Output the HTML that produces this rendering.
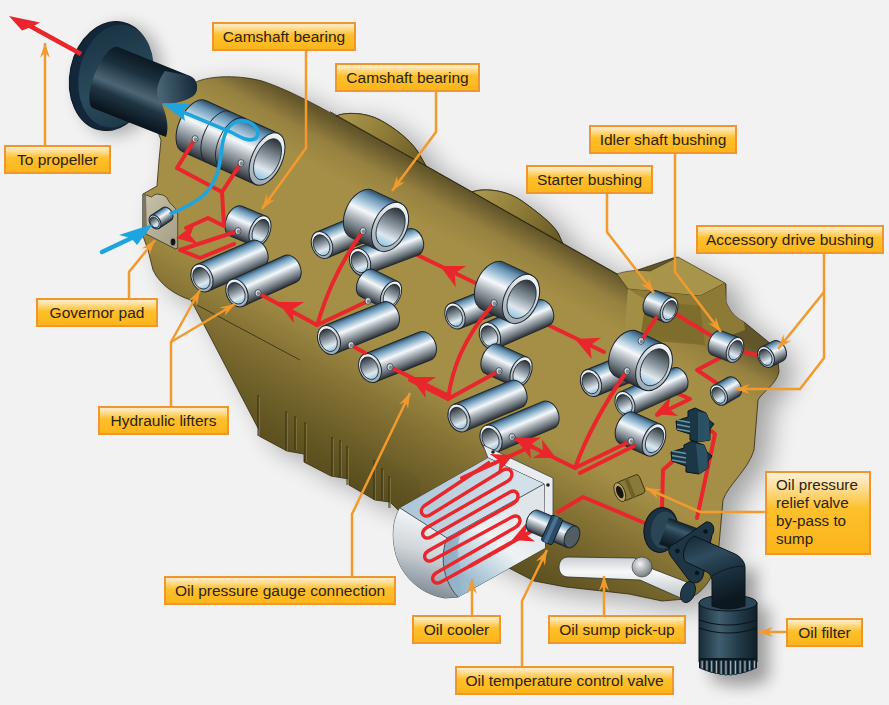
<!DOCTYPE html><html><head><meta charset="utf-8"><style>html,body{margin:0;padding:0;background:#f2f2f3;}svg{display:block;font-family:"Liberation Sans",sans-serif;}text{fill:#2b2319;}</style></head><body>
<svg width="889" height="705" viewBox="0 0 889 705">
<defs>

<linearGradient id="lab" x1="0" y1="0" x2="0" y2="1">
 <stop offset="0" stop-color="#fdf2da"/><stop offset="0.15" stop-color="#fde3a6"/><stop offset="0.45" stop-color="#fdc02c"/><stop offset="1" stop-color="#fcb41a"/>
</linearGradient>
<linearGradient id="mA" x1="0" y1="0" x2="0" y2="1">
 <stop offset="0" stop-color="#2c4a60"/><stop offset="0.12" stop-color="#6592b2"/><stop offset="0.3" stop-color="#b6d0e1"/><stop offset="0.43" stop-color="#f5f8fa"/><stop offset="0.58" stop-color="#b9c1c7"/><stop offset="0.82" stop-color="#687078"/><stop offset="1" stop-color="#2a2e33"/>
</linearGradient>
<linearGradient id="mB" x1="0" y1="1" x2="0" y2="0">
 <stop offset="0" stop-color="#2c4a60"/><stop offset="0.12" stop-color="#6592b2"/><stop offset="0.3" stop-color="#b6d0e1"/><stop offset="0.43" stop-color="#f5f8fa"/><stop offset="0.58" stop-color="#b9c1c7"/><stop offset="0.82" stop-color="#687078"/><stop offset="1" stop-color="#2a2e33"/>
</linearGradient>
<linearGradient id="eA" x1="0" y1="0" x2="0" y2="1">
 <stop offset="0" stop-color="#f4f6f8"/><stop offset="1" stop-color="#9aa8b3"/>
</linearGradient>
<linearGradient id="eB" x1="0" y1="1" x2="0" y2="0">
 <stop offset="0" stop-color="#f4f6f8"/><stop offset="1" stop-color="#9aa8b3"/>
</linearGradient>
<linearGradient id="hA" x1="0" y1="0" x2="0" y2="1">
 <stop offset="0" stop-color="#2a3136"/><stop offset="0.45" stop-color="#8e9aa3"/><stop offset="0.75" stop-color="#dfe8ee"/><stop offset="1" stop-color="#8fc3e0"/>
</linearGradient>
<linearGradient id="hB" x1="0" y1="1" x2="0" y2="0">
 <stop offset="0" stop-color="#2a3136"/><stop offset="0.45" stop-color="#8e9aa3"/><stop offset="0.75" stop-color="#dfe8ee"/><stop offset="1" stop-color="#8fc3e0"/>
</linearGradient>
<linearGradient id="body" gradientUnits="userSpaceOnUse" x1="560" y1="241.6" x2="407" y2="522">
 <stop offset="0" stop-color="#62552a"/><stop offset="0.08" stop-color="#968140"/><stop offset="0.16" stop-color="#a58f46"/><stop offset="0.56" stop-color="#a58f46"/><stop offset="0.75" stop-color="#806e32"/><stop offset="0.94" stop-color="#605422"/><stop offset="1" stop-color="#5a4e20"/>
</linearGradient>
<linearGradient id="nose" gradientUnits="userSpaceOnUse" x1="240" y1="80" x2="200" y2="250">
 <stop offset="0" stop-color="#6e6126"/><stop offset="0.5" stop-color="#8d7d35"/><stop offset="1" stop-color="#7a6b2c"/>
</linearGradient>
<linearGradient id="sump" gradientUnits="userSpaceOnUse" x1="300" y1="380" x2="280" y2="470">
 <stop offset="0" stop-color="#7a6a2e" stop-opacity="0"/><stop offset="1" stop-color="#55491c" stop-opacity="0.3"/>
</linearGradient>
<linearGradient id="hump1" gradientUnits="userSpaceOnUse" x1="350" y1="112" x2="420" y2="160">
 <stop offset="0" stop-color="#a8944a"/><stop offset="0.5" stop-color="#8c7a36"/><stop offset="1" stop-color="#6a5c26"/>
</linearGradient>
<linearGradient id="hump2" gradientUnits="userSpaceOnUse" x1="485" y1="190" x2="555" y2="238">
 <stop offset="0" stop-color="#a8944a"/><stop offset="0.5" stop-color="#8c7a36"/><stop offset="1" stop-color="#6a5c26"/>
</linearGradient>
<linearGradient id="hump" gradientUnits="userSpaceOnUse" x1="0" y1="0" x2="1" y2="1" gradientTransform="scale(1)">
 <stop offset="0" stop-color="#a08e42"/><stop offset="1" stop-color="#6a5d25"/>
</linearGradient>
<linearGradient id="navy" x1="0" y1="0" x2="0" y2="1">
 <stop offset="0" stop-color="#0f1d27"/><stop offset="0.3" stop-color="#3d5566"/><stop offset="0.55" stop-color="#1f3442"/><stop offset="1" stop-color="#0b161e"/>
</linearGradient>
<linearGradient id="navyH" x1="0" y1="0" x2="1" y2="0">
 <stop offset="0" stop-color="#182c39"/><stop offset="0.35" stop-color="#3f5e6e"/><stop offset="0.7" stop-color="#213947"/><stop offset="1" stop-color="#111f28"/>
</linearGradient>
<linearGradient id="cool" x1="0" y1="0" x2="0" y2="1">
 <stop offset="0" stop-color="#f4f6f7"/><stop offset="1" stop-color="#aab3ba"/>
</linearGradient>
<linearGradient id="coolS" x1="0" y1="0" x2="1" y2="0">
 <stop offset="0" stop-color="#c9cfd4"/><stop offset="0.5" stop-color="#eef1f3"/><stop offset="1" stop-color="#b4bcc3"/>
</linearGradient>
<linearGradient id="flange" gradientUnits="userSpaceOnUse" x1="80" y1="40" x2="130" y2="130">
 <stop offset="0" stop-color="#1a3444"/><stop offset="0.6" stop-color="#2a4b5c"/><stop offset="1" stop-color="#1c3848"/>
</linearGradient>
<linearGradient id="shaft" gradientUnits="userSpaceOnUse" x1="160" y1="55" x2="140" y2="135">
 <stop offset="0" stop-color="#0e1b24"/><stop offset="0.3" stop-color="#22394a"/><stop offset="0.5" stop-color="#50697a"/><stop offset="0.65" stop-color="#1d3241"/><stop offset="1" stop-color="#0a141b"/>
</linearGradient>
<linearGradient id="coolTop" gradientUnits="userSpaceOnUse" x1="420" y1="480" x2="500" y2="510">
 <stop offset="0" stop-color="#adc6d8"/><stop offset="1" stop-color="#d2e0e9"/>
</linearGradient>
<linearGradient id="coolSide" gradientUnits="userSpaceOnUse" x1="452" y1="585" x2="515" y2="505">
 <stop offset="0" stop-color="#86aac2"/><stop offset="0.3" stop-color="#b9cfdd"/><stop offset="0.6" stop-color="#eef2f5"/><stop offset="1" stop-color="#dfe5e9"/>
</linearGradient>
<linearGradient id="coolEnd" gradientUnits="userSpaceOnUse" x1="420" y1="515" x2="400" y2="590">
 <stop offset="0" stop-color="#f2f4f5"/><stop offset="0.45" stop-color="#cfd5da"/><stop offset="1" stop-color="#7d8892"/>
</linearGradient>
<linearGradient id="tube" x1="0" y1="0" x2="0" y2="1">
 <stop offset="0" stop-color="#c9ced2"/><stop offset="0.35" stop-color="#f7f8f8"/><stop offset="1" stop-color="#b9c0c5"/>
</linearGradient>
<radialGradient id="ball" cx="0.4" cy="0.35" r="0.7">
 <stop offset="0" stop-color="#f4f4f4"/><stop offset="1" stop-color="#6b7378"/>
</radialGradient>
<linearGradient id="shaftL" x1="0" y1="0" x2="0" y2="1">
 <stop offset="0" stop-color="#0c1922"/><stop offset="0.25" stop-color="#1a2f3d"/><stop offset="0.55" stop-color="#4d6676"/><stop offset="0.7" stop-color="#1f3543"/><stop offset="1" stop-color="#08121a"/>
</linearGradient>
<linearGradient id="pad" x1="0" y1="0" x2="1" y2="1">
 <stop offset="0" stop-color="#c9c3ac"/><stop offset="1" stop-color="#a39c84"/>
</linearGradient>
<linearGradient id="pipe" x1="0" y1="0" x2="0.3" y2="1">
 <stop offset="0" stop-color="#142633"/><stop offset="0.35" stop-color="#2f4c5e"/><stop offset="0.6" stop-color="#1d3442"/><stop offset="1" stop-color="#0c1820"/>
</linearGradient>
<linearGradient id="coolCurve" x1="0" y1="0" x2="1" y2="0">
 <stop offset="0" stop-color="#7fa4bd"/><stop offset="1" stop-color="#a9c3d4"/>
</linearGradient>
<linearGradient id="pipeC" x1="0" y1="0" x2="0" y2="1">
 <stop offset="0" stop-color="#10202b"/><stop offset="0.3" stop-color="#3b5a6c"/><stop offset="0.55" stop-color="#1f3746"/><stop offset="1" stop-color="#0a151c"/>
</linearGradient>
<linearGradient id="shaftU" gradientUnits="userSpaceOnUse" x1="150" y1="60" x2="125" y2="121">
 <stop offset="0" stop-color="#0c1922"/><stop offset="0.25" stop-color="#1a2f3d"/><stop offset="0.55" stop-color="#4d6676"/><stop offset="0.7" stop-color="#1f3543"/><stop offset="1" stop-color="#08121a"/>
</linearGradient>
<linearGradient id="capG" gradientUnits="userSpaceOnUse" x1="158" y1="90" x2="196" y2="85">
 <stop offset="0" stop-color="#4a6676"/><stop offset="1" stop-color="#15293a"/>
</linearGradient>
<filter id="shadow2" x="-50%" y="-50%" width="200%" height="200%">
 <feGaussianBlur stdDeviation="8"/>
</filter>
<filter id="shadow" x="-20%" y="-20%" width="140%" height="140%">
 <feGaussianBlur stdDeviation="13"/>
</filter>

</defs>
<rect width="889" height="705" fill="#f2f2f3"/>
<path d="M192,84 C205,76 235,74 262,81 C280,87 300,96 336,116 C345,112 365,112 380,120 C395,128 410,140 418,152 L426,166 L472,192 C482,188 505,189 522,201 C536,211 552,223 558,233 L563,244 L620,276 L676,257 L726,284 L726,302 C730,312 736,318 744,322 L777,349 L779,372 C776,385 762,392 758,400 L754,450 C748,470 728,485 723,500 L719,545 L716,565 C712,580 700,596 686,599 L662,601 L629,594 L566,587 L534,581 L505,566 L400,512 L390,502 L375,500 L349,485 L349,479 L331,476 L304,462 L304,454 L287,451 L259,436 L259,430 L191,300 C175,295 160,285 153,270 L148,250 L143,236 L143,194 L157,186 L159,160 L161,140 L150,112 L172,80 Z" fill="#000" opacity="0.32" filter="url(#shadow)" transform="translate(14,8)"/>
<path d="M192,84 C205,76 235,74 262,81 C280,87 300,96 336,116 C345,112 365,112 380,120 C395,128 410,140 418,152 L426,166 L472,192 C482,188 505,189 522,201 C536,211 552,223 558,233 L563,244 L620,276 L676,257 L726,284 L726,302 C730,312 736,318 744,322 L777,349 L779,372 C776,385 762,392 758,400 L754,450 C748,470 728,485 723,500 L719,545 L716,565 C712,580 700,596 686,599 L662,601 L629,594 L566,587 L534,581 L505,566 L400,512 L390,502 L375,500 L349,485 L349,479 L331,476 L304,462 L304,454 L287,451 L259,436 L259,430 L191,300 C175,295 160,285 153,270 L148,250 L143,236 L143,194 L157,186 L159,160 L161,140 L150,112 L172,80 Z" fill="url(#body)" stroke="#2e2810" stroke-width="0.8"/>
<path d="M191,300 L259,430 L259,436 L287,451 L304,454 L304,462 L331,476 L349,479 L349,485 L375,500 L390,502 L400,512 L420,520 L420,480 L300,400 Z" fill="url(#sump)"/>
<path d="M197,305 L300,360" stroke="#2e2810" stroke-width="0.8"/>
<line x1="259.2" y1="397" x2="259.2" y2="436" stroke="#8c7b3a" stroke-width="1"/>
<line x1="258" y1="395" x2="258" y2="436" stroke="#2e2810" stroke-width="0.9"/>
<line x1="287.2" y1="413" x2="287.2" y2="451" stroke="#8c7b3a" stroke-width="1"/>
<line x1="286" y1="411" x2="286" y2="451" stroke="#2e2810" stroke-width="0.9"/>
<line x1="296.2" y1="418" x2="296.2" y2="450" stroke="#8c7b3a" stroke-width="1"/>
<line x1="295" y1="416" x2="295" y2="450" stroke="#2e2810" stroke-width="0.9"/>
<line x1="306.2" y1="424" x2="306.2" y2="462" stroke="#8c7b3a" stroke-width="1"/>
<line x1="305" y1="422" x2="305" y2="462" stroke="#2e2810" stroke-width="0.9"/>
<line x1="333.2" y1="439" x2="333.2" y2="476" stroke="#8c7b3a" stroke-width="1"/>
<line x1="332" y1="437" x2="332" y2="476" stroke="#2e2810" stroke-width="0.9"/>
<line x1="341.2" y1="442" x2="341.2" y2="477" stroke="#8c7b3a" stroke-width="1"/>
<line x1="340" y1="440" x2="340" y2="477" stroke="#2e2810" stroke-width="0.9"/>
<line x1="348.2" y1="448" x2="348.2" y2="485" stroke="#8c7b3a" stroke-width="1"/>
<line x1="347" y1="446" x2="347" y2="485" stroke="#2e2810" stroke-width="0.9"/>
<line x1="375.2" y1="462" x2="375.2" y2="500" stroke="#8c7b3a" stroke-width="1"/>
<line x1="374" y1="460" x2="374" y2="500" stroke="#2e2810" stroke-width="0.9"/>
<line x1="383.2" y1="470" x2="383.2" y2="500" stroke="#8c7b3a" stroke-width="1"/>
<line x1="382" y1="468" x2="382" y2="500" stroke="#2e2810" stroke-width="0.9"/>
<line x1="390.2" y1="478" x2="390.2" y2="508" stroke="#8c7b3a" stroke-width="1"/>
<line x1="389" y1="476" x2="389" y2="508" stroke="#2e2810" stroke-width="0.9"/>
<path d="M336,116 C345,112 365,112 380,120 C395,128 410,140 418,152 L426,166 Z" fill="url(#hump1)" stroke="#2e2810" stroke-width="0.8"/>
<path d="M472,192 C482,188 505,189 522,201 C536,211 552,223 558,233 L563,244 Z" fill="url(#hump2)" stroke="#2e2810" stroke-width="0.8"/>
<path d="M330,111.7 L620,275.6" stroke="#2e2810" stroke-width="0.9" fill="none"/>
<path d="M617,274 C628,270 640,270 650,271 L678,257 L725,283 L700,296 L628,289 Z" fill="#a8954a" stroke="#2e2810" stroke-width="0.6"/>
<path d="M628,289 L700,296 L725,283 L726,302 C730,312 736,318 744,322 L745,330 L705,345 L624,332 Z" fill="#8c7a36"/>
<path d="M628,289 L624,332 L640,340 L646,300 Z" fill="#a8954a" opacity="0.8"/>
<path d="M646,300 L700,306 L705,345 L640,340 Z" fill="#7b6a2c" opacity="0.8"/>
<ellipse cx="120" cy="80" rx="42" ry="56" transform="rotate(12 120 80)" fill="#000" opacity="0.28" filter="url(#shadow2)"/>
<ellipse cx="111" cy="76" rx="41" ry="55" transform="rotate(12 111 76)" fill="#13273a" stroke="#0a141b" stroke-width="1"/>
<ellipse cx="116" cy="76" rx="37" ry="52" transform="rotate(12 116 76)" fill="url(#flange)"/>
<path d="M118,47 L190,76 C197,79 199,88 195,94 C190,100 175,104 162,104 C165,112 170,126 166,137 L93.2,108.2 A11.5,33 21.9 0 1 118,47 Z" fill="url(#shaftU)"/>
<path d="M165,71 L190,76 C197,79 199,88 195,94 C190,100 175,104 162,104 C155,99 155,84 165,71 Z" fill="url(#capG)"/>
<path d="M81,54 L30,26" stroke="#e8262b" stroke-width="4.6"/>
<path d="M9,16 L40,22.5 L32.6,26.4 L22,30.5 Z" fill="#e8262b"/>
<path d="M409,251 L490,290" fill="none" stroke="#e8262b" stroke-width="4.0" stroke-linejoin="round" stroke-linecap="round"/>
<path d="M440,266 L466.2,266.0 L454.7,273.3 L455.7,286.9 Z" fill="#e8262b"/>
<path d="M542,322 L604,352" fill="none" stroke="#e8262b" stroke-width="4.0" stroke-linejoin="round" stroke-linecap="round"/>
<path d="M575,339 L601.1,337.7 L590.0,345.6 L591.7,359.1 Z" fill="#e8262b"/>
<path d="M669,310 L735,350 L766,357" fill="none" stroke="#e8262b" stroke-width="4.0" stroke-linejoin="round" stroke-linecap="round"/>
<path d="M670,390 L690,399 L657,415" fill="none" stroke="#e8262b" stroke-width="4.0" stroke-linejoin="round" stroke-linecap="round"/>
<path d="M655,414 L670.4,396.6 L668.5,408.6 L678.2,415.9 Z" fill="#e8262b"/>
<path d="M735,350 L697,370 L721,386" fill="none" stroke="#e8262b" stroke-width="4.0" stroke-linejoin="round" stroke-linecap="round"/>
<g transform="translate(194.0,126.0) rotate(24.33)"><path d="M0,-28 L80.1,-28 L80.1,28 L0,28 A15.1,28 0 0 1 0,-28 Z" fill="url(#mA)" stroke="#1b2630" stroke-width="1.0"/><path d="M27.2,-28 A15.1,28 0 0 0 27.2,28" fill="none" stroke="#1b2630" stroke-width="0.9"/><path d="M43.3,-28 A15.1,28 0 0 0 43.3,28" fill="none" stroke="#1b2630" stroke-width="0.9"/><ellipse cx="80.1" cy="0" rx="15.1" ry="28" fill="url(#eA)" stroke="#1b2630" stroke-width="1.0"/><ellipse cx="80.7" cy="0" rx="11.8" ry="21.8" fill="url(#hA)" stroke="#1b2630" stroke-width="0.8"/></g>
<g transform="translate(236.0,221.0) rotate(22.62)"><path d="M0,-16 L26.0,-16 L26.0,16 L0,16 A9.9,16 0 0 1 0,-16 Z" fill="url(#mA)" stroke="#1b2630" stroke-width="1.0"/><ellipse cx="26.0" cy="0" rx="9.9" ry="16" fill="url(#eA)" stroke="#1b2630" stroke-width="1.0"/><ellipse cx="26.6" cy="0" rx="7.7" ry="12.5" fill="url(#hA)" stroke="#1b2630" stroke-width="0.8"/></g>
<g transform="translate(257.0,254.0) rotate(156.43)"><path d="M0,-14.5 L60.0,-14.5 L60.0,14.5 L0,14.5 A10.4,14.5 0 0 1 0,-14.5 Z" fill="url(#mB)" stroke="#1b2630" stroke-width="1.0"/><ellipse cx="60.0" cy="0" rx="10.4" ry="14.5" fill="url(#eB)" stroke="#1b2630" stroke-width="1.0"/><ellipse cx="60.6" cy="0" rx="8.1" ry="11.3" fill="url(#hB)" stroke="#1b2630" stroke-width="0.8"/></g>
<g transform="translate(290.0,269.0) rotate(155.64)"><path d="M0,-14.5 L58.2,-14.5 L58.2,14.5 L0,14.5 A10.4,14.5 0 0 1 0,-14.5 Z" fill="url(#mB)" stroke="#1b2630" stroke-width="1.0"/><ellipse cx="58.2" cy="0" rx="10.4" ry="14.5" fill="url(#eB)" stroke="#1b2630" stroke-width="1.0"/><ellipse cx="58.8" cy="0" rx="8.1" ry="11.3" fill="url(#hB)" stroke="#1b2630" stroke-width="0.8"/></g>
<g transform="translate(372.0,224.0) rotate(157.22)"><path d="M0,-14 L54.2,-14 L54.2,14 L0,14 A10.1,14 0 0 1 0,-14 Z" fill="url(#mB)" stroke="#1b2630" stroke-width="1.0"/><ellipse cx="54.2" cy="0" rx="10.1" ry="14" fill="url(#eB)" stroke="#1b2630" stroke-width="1.0"/><ellipse cx="54.8" cy="0" rx="7.9" ry="10.9" fill="url(#hB)" stroke="#1b2630" stroke-width="0.8"/></g>
<g transform="translate(413.0,242.0) rotate(159.33)"><path d="M0,-14 L56.6,-14 L56.6,14 L0,14 A10.1,14 0 0 1 0,-14 Z" fill="url(#mB)" stroke="#1b2630" stroke-width="1.0"/><ellipse cx="56.6" cy="0" rx="10.1" ry="14" fill="url(#eB)" stroke="#1b2630" stroke-width="1.0"/><ellipse cx="57.2" cy="0" rx="7.9" ry="10.9" fill="url(#hB)" stroke="#1b2630" stroke-width="0.8"/></g>
<g transform="translate(362.0,214.0) rotate(24.90)"><path d="M0,-26 L30.9,-26 L30.9,26 L0,26 A16.6,26 0 0 1 0,-26 Z" fill="url(#mA)" stroke="#1b2630" stroke-width="1.0"/><ellipse cx="30.9" cy="0" rx="16.6" ry="26" fill="url(#eA)" stroke="#1b2630" stroke-width="1.0"/><ellipse cx="31.5" cy="0" rx="13.0" ry="20.3" fill="url(#hA)" stroke="#1b2630" stroke-width="0.8"/></g>
<g transform="translate(367.0,283.0) rotate(26.57)"><path d="M0,-15 L26.8,-15 L26.8,15 L0,15 A9.3,15 0 0 1 0,-15 Z" fill="url(#mA)" stroke="#1b2630" stroke-width="1.0"/><ellipse cx="26.8" cy="0" rx="9.3" ry="15" fill="url(#eA)" stroke="#1b2630" stroke-width="1.0"/><ellipse cx="27.4" cy="0" rx="7.3" ry="11.7" fill="url(#hA)" stroke="#1b2630" stroke-width="0.8"/></g>
<g transform="translate(388.0,316.0) rotate(157.86)"><path d="M0,-15 L63.7,-15 L63.7,15 L0,15 A10.8,15 0 0 1 0,-15 Z" fill="url(#mB)" stroke="#1b2630" stroke-width="1.0"/><ellipse cx="63.7" cy="0" rx="10.8" ry="15" fill="url(#eB)" stroke="#1b2630" stroke-width="1.0"/><ellipse cx="64.3" cy="0" rx="8.4" ry="11.7" fill="url(#hB)" stroke="#1b2630" stroke-width="0.8"/></g>
<g transform="translate(425.0,346.0) rotate(158.20)"><path d="M0,-15 L59.2,-15 L59.2,15 L0,15 A10.8,15 0 0 1 0,-15 Z" fill="url(#mB)" stroke="#1b2630" stroke-width="1.0"/><ellipse cx="59.2" cy="0" rx="10.8" ry="15" fill="url(#eB)" stroke="#1b2630" stroke-width="1.0"/><ellipse cx="59.8" cy="0" rx="8.4" ry="11.7" fill="url(#hB)" stroke="#1b2630" stroke-width="0.8"/></g>
<g transform="translate(503.0,297.0) rotate(158.40)"><path d="M0,-13.5 L51.6,-13.5 L51.6,13.5 L0,13.5 A9.7,13.5 0 0 1 0,-13.5 Z" fill="url(#mB)" stroke="#1b2630" stroke-width="1.0"/><ellipse cx="51.6" cy="0" rx="9.7" ry="13.5" fill="url(#eB)" stroke="#1b2630" stroke-width="1.0"/><ellipse cx="52.2" cy="0" rx="7.6" ry="10.5" fill="url(#hB)" stroke="#1b2630" stroke-width="0.8"/></g>
<g transform="translate(543.0,313.0) rotate(156.54)"><path d="M0,-14 L57.8,-14 L57.8,14 L0,14 A10.1,14 0 0 1 0,-14 Z" fill="url(#mB)" stroke="#1b2630" stroke-width="1.0"/><ellipse cx="57.8" cy="0" rx="10.1" ry="14" fill="url(#eB)" stroke="#1b2630" stroke-width="1.0"/><ellipse cx="58.4" cy="0" rx="7.9" ry="10.9" fill="url(#hB)" stroke="#1b2630" stroke-width="0.8"/></g>
<g transform="translate(493.0,286.0) rotate(24.90)"><path d="M0,-26 L30.9,-26 L30.9,26 L0,26 A16.6,26 0 0 1 0,-26 Z" fill="url(#mA)" stroke="#1b2630" stroke-width="1.0"/><ellipse cx="30.9" cy="0" rx="16.6" ry="26" fill="url(#eA)" stroke="#1b2630" stroke-width="1.0"/><ellipse cx="31.5" cy="0" rx="13.0" ry="20.3" fill="url(#hA)" stroke="#1b2630" stroke-width="0.8"/></g>
<g transform="translate(492.0,359.0) rotate(24.15)"><path d="M0,-16 L31.8,-16 L31.8,16 L0,16 A9.9,16 0 0 1 0,-16 Z" fill="url(#mA)" stroke="#1b2630" stroke-width="1.0"/><ellipse cx="31.8" cy="0" rx="9.9" ry="16" fill="url(#eA)" stroke="#1b2630" stroke-width="1.0"/><ellipse cx="32.4" cy="0" rx="7.7" ry="12.5" fill="url(#hA)" stroke="#1b2630" stroke-width="0.8"/></g>
<g transform="translate(516.0,394.0) rotate(157.17)"><path d="M0,-14.5 L61.8,-14.5 L61.8,14.5 L0,14.5 A10.4,14.5 0 0 1 0,-14.5 Z" fill="url(#mB)" stroke="#1b2630" stroke-width="1.0"/><ellipse cx="61.8" cy="0" rx="10.4" ry="14.5" fill="url(#eB)" stroke="#1b2630" stroke-width="1.0"/><ellipse cx="62.4" cy="0" rx="8.1" ry="11.3" fill="url(#hB)" stroke="#1b2630" stroke-width="0.8"/></g>
<g transform="translate(548.0,415.0) rotate(157.17)"><path d="M0,-14.5 L61.8,-14.5 L61.8,14.5 L0,14.5 A10.4,14.5 0 0 1 0,-14.5 Z" fill="url(#mB)" stroke="#1b2630" stroke-width="1.0"/><ellipse cx="61.8" cy="0" rx="10.4" ry="14.5" fill="url(#eB)" stroke="#1b2630" stroke-width="1.0"/><ellipse cx="62.4" cy="0" rx="8.1" ry="11.3" fill="url(#hB)" stroke="#1b2630" stroke-width="0.8"/></g>
<g transform="translate(638.0,364.0) rotate(157.99)"><path d="M0,-14 L50.7,-14 L50.7,14 L0,14 A10.1,14 0 0 1 0,-14 Z" fill="url(#mB)" stroke="#1b2630" stroke-width="1.0"/><ellipse cx="50.7" cy="0" rx="10.1" ry="14" fill="url(#eB)" stroke="#1b2630" stroke-width="1.0"/><ellipse cx="51.3" cy="0" rx="7.9" ry="10.9" fill="url(#hB)" stroke="#1b2630" stroke-width="0.8"/></g>
<g transform="translate(678.0,380.0) rotate(155.64)"><path d="M0,-13 L58.2,-13 L58.2,13 L0,13 A9.4,13 0 0 1 0,-13 Z" fill="url(#mB)" stroke="#1b2630" stroke-width="1.0"/><ellipse cx="58.2" cy="0" rx="9.4" ry="13" fill="url(#eB)" stroke="#1b2630" stroke-width="1.0"/><ellipse cx="58.8" cy="0" rx="7.3" ry="10.1" fill="url(#hB)" stroke="#1b2630" stroke-width="0.8"/></g>
<g transform="translate(627.0,354.0) rotate(25.71)"><path d="M0,-25 L30.0,-25 L30.0,25 L0,25 A16.5,25 0 0 1 0,-25 Z" fill="url(#mA)" stroke="#1b2630" stroke-width="1.0"/><ellipse cx="30.0" cy="0" rx="16.5" ry="25" fill="url(#eA)" stroke="#1b2630" stroke-width="1.0"/><ellipse cx="30.6" cy="0" rx="12.9" ry="19.5" fill="url(#hA)" stroke="#1b2630" stroke-width="0.8"/></g>
<g transform="translate(627.0,428.0) rotate(23.96)"><path d="M0,-17 L29.5,-17 L29.5,17 L0,17 A10.5,17 0 0 1 0,-17 Z" fill="url(#mA)" stroke="#1b2630" stroke-width="1.0"/><ellipse cx="29.5" cy="0" rx="10.5" ry="17" fill="url(#eA)" stroke="#1b2630" stroke-width="1.0"/><ellipse cx="30.1" cy="0" rx="8.2" ry="13.3" fill="url(#hA)" stroke="#1b2630" stroke-width="0.8"/></g>
<g transform="translate(652.0,303.0) rotate(22.38)"><path d="M0,-13 L18.4,-13 L18.4,13 L0,13 A8.1,13 0 0 1 0,-13 Z" fill="url(#mA)" stroke="#1b2630" stroke-width="1.0"/><ellipse cx="18.4" cy="0" rx="8.1" ry="13" fill="url(#eA)" stroke="#1b2630" stroke-width="1.0"/><ellipse cx="19.0" cy="0" rx="6.3" ry="10.1" fill="url(#hA)" stroke="#1b2630" stroke-width="0.8"/></g>
<g transform="translate(717.0,343.0) rotate(21.25)"><path d="M0,-13 L19.3,-13 L19.3,13 L0,13 A8.1,13 0 0 1 0,-13 Z" fill="url(#mA)" stroke="#1b2630" stroke-width="1.0"/><ellipse cx="19.3" cy="0" rx="8.1" ry="13" fill="url(#eA)" stroke="#1b2630" stroke-width="1.0"/><ellipse cx="19.9" cy="0" rx="6.3" ry="10.1" fill="url(#hA)" stroke="#1b2630" stroke-width="0.8"/></g>
<g transform="translate(778.0,351.0) rotate(153.43)"><path d="M0,-11 L13.4,-11 L13.4,11 L0,11 A7.7,11 0 0 1 0,-11 Z" fill="url(#mB)" stroke="#1b2630" stroke-width="1.0"/><ellipse cx="13.4" cy="0" rx="7.7" ry="11" fill="url(#eB)" stroke="#1b2630" stroke-width="1.0"/><ellipse cx="14.0" cy="0" rx="6.0" ry="8.6" fill="url(#hB)" stroke="#1b2630" stroke-width="0.8"/></g>
<g transform="translate(733.0,387.0) rotate(150.26)"><path d="M0,-11 L16.1,-11 L16.1,11 L0,11 A7.7,11 0 0 1 0,-11 Z" fill="url(#mB)" stroke="#1b2630" stroke-width="1.0"/><ellipse cx="16.1" cy="0" rx="7.7" ry="11" fill="url(#eB)" stroke="#1b2630" stroke-width="1.0"/><ellipse cx="16.7" cy="0" rx="6.0" ry="8.6" fill="url(#hB)" stroke="#1b2630" stroke-width="0.8"/></g>
<path d="M143,194 L151.6,197 L154,195 L157,194 L163,195 L166.3,197 L169.7,202.7 L175.4,208.4 L177.7,214 L177.7,248 L175.4,249 L144.8,233.3 L143,230 Z" fill="url(#pad)" stroke="#3a3420" stroke-width="0.8"/>
<path d="M143,194 L146,195 L147,233 L144.8,233.3 L143,230 Z" fill="#7d7560"/>
<g transform="translate(167.0,214.0) rotate(146.31)"><path d="M0,-7.5 L14.4,-7.5 L14.4,7.5 L0,7.5 A5.2,7.5 0 0 1 0,-7.5 Z" fill="url(#mB)" stroke="#1b2630" stroke-width="1.0"/><ellipse cx="14.4" cy="0" rx="5.2" ry="7.5" fill="url(#eB)" stroke="#1b2630" stroke-width="1.0"/><ellipse cx="15.0" cy="0" rx="4.1" ry="5.9" fill="url(#hB)" stroke="#1b2630" stroke-width="0.8"/></g>
<ellipse cx="173" cy="242" rx="2.4" ry="3.4" fill="#151515"/>
<path d="M656,318 L641,341" fill="none" stroke="#e8262b" stroke-width="4.0" stroke-linejoin="round" stroke-linecap="round"/>
<path d="M195,139 L177,168 L222,192 L241,163" fill="none" stroke="#e8262b" stroke-width="4.0" stroke-linejoin="round" stroke-linecap="round"/>
<path d="M222,192 L224,226 L208,218 L186,228" fill="none" stroke="#e8262b" stroke-width="4.0" stroke-linejoin="round" stroke-linecap="round"/>
<path d="M176,238 L194.6,224.0 L190.3,235.4 L198.3,244.5 Z" fill="#e8262b"/>
<path d="M238,231 L180,250 L200,258 L234,244" fill="none" stroke="#e8262b" stroke-width="4.0" stroke-linejoin="round" stroke-linecap="round"/>
<path d="M317,325 C325,300 335,270 363,231" fill="none" stroke="#e8262b" stroke-width="4.0" stroke-linejoin="round" stroke-linecap="round"/>
<path d="M317,325 L368,301" fill="none" stroke="#e8262b" stroke-width="4.0" stroke-linejoin="round" stroke-linecap="round"/>
<path d="M317,325 L258,293" fill="none" stroke="#e8262b" stroke-width="4.0" stroke-linejoin="round" stroke-linecap="round"/>
<path d="M278,302 L304.2,302.0 L292.7,309.3 L293.7,322.9 Z" fill="#e8262b"/>
<path d="M351,345 L365,353" fill="none" stroke="#e8262b" stroke-width="4.0" stroke-linejoin="round" stroke-linecap="round"/>
<path d="M390,367 L449,396" fill="none" stroke="#e8262b" stroke-width="4.0" stroke-linejoin="round" stroke-linecap="round"/>
<path d="M410,377 L436.2,377.0 L424.7,384.3 L425.7,397.9 Z" fill="#e8262b"/>
<path d="M448,399 C452,370 462,340 494,303" fill="none" stroke="#e8262b" stroke-width="4.0" stroke-linejoin="round" stroke-linecap="round"/>
<path d="M448,399 L499,371" fill="none" stroke="#e8262b" stroke-width="4.0" stroke-linejoin="round" stroke-linecap="round"/>
<path d="M448,399 L410,380" fill="none" stroke="#e8262b" stroke-width="4.0" stroke-linejoin="round" stroke-linecap="round"/>
<path d="M512,437 L575,468" fill="none" stroke="#e8262b" stroke-width="4.0" stroke-linejoin="round" stroke-linecap="round"/>
<path d="M515,438 L541.2,437.6 L529.8,445.1 L531.0,458.7 Z" fill="#e8262b"/>
<path d="M575,468 C585,440 600,410 627,371" fill="none" stroke="#e8262b" stroke-width="4.0" stroke-linejoin="round" stroke-linecap="round"/>
<path d="M575,468 L631,441" fill="none" stroke="#e8262b" stroke-width="4.0" stroke-linejoin="round" stroke-linecap="round"/>
<path d="M580,473 L634,446" fill="none" stroke="#e8262b" stroke-width="4.0" stroke-linejoin="round" stroke-linecap="round"/>
<path d="M556,458 L532.7,458.0 L543.0,451.5 L542.0,439.4 Z" fill="#e8262b"/>
<path d="M558,512 L583,497 L647,524" fill="none" stroke="#e8262b" stroke-width="4.0" stroke-linejoin="round" stroke-linecap="round"/>
<path d="M662,507 L663,470 L674,460" fill="none" stroke="#e8262b" stroke-width="4.0" stroke-linejoin="round" stroke-linecap="round"/>
<path d="M697,518 L715,434 L710,430" fill="none" stroke="#e8262b" stroke-width="4.0" stroke-linejoin="round" stroke-linecap="round"/>
<ellipse cx="195" cy="139" rx="3" ry="3.4" fill="#d5dde2" stroke="#1b2630" stroke-width="0.7"/><ellipse cx="195.5" cy="139.5" rx="1.7" ry="2" fill="#7d878e"/>
<ellipse cx="241" cy="163" rx="3" ry="3.4" fill="#d5dde2" stroke="#1b2630" stroke-width="0.7"/><ellipse cx="241.5" cy="163.5" rx="1.7" ry="2" fill="#7d878e"/>
<ellipse cx="238" cy="231" rx="3" ry="3.4" fill="#d5dde2" stroke="#1b2630" stroke-width="0.7"/><ellipse cx="238.5" cy="231.5" rx="1.7" ry="2" fill="#7d878e"/>
<ellipse cx="363" cy="231" rx="3" ry="3.4" fill="#d5dde2" stroke="#1b2630" stroke-width="0.7"/><ellipse cx="363.5" cy="231.5" rx="1.7" ry="2" fill="#7d878e"/>
<ellipse cx="368" cy="301" rx="3" ry="3.4" fill="#d5dde2" stroke="#1b2630" stroke-width="0.7"/><ellipse cx="368.5" cy="301.5" rx="1.7" ry="2" fill="#7d878e"/>
<ellipse cx="351" cy="345" rx="3" ry="3.4" fill="#d5dde2" stroke="#1b2630" stroke-width="0.7"/><ellipse cx="351.5" cy="345.5" rx="1.7" ry="2" fill="#7d878e"/>
<ellipse cx="390" cy="367" rx="3" ry="3.4" fill="#d5dde2" stroke="#1b2630" stroke-width="0.7"/><ellipse cx="390.5" cy="367.5" rx="1.7" ry="2" fill="#7d878e"/>
<ellipse cx="258" cy="293" rx="3" ry="3.4" fill="#d5dde2" stroke="#1b2630" stroke-width="0.7"/><ellipse cx="258.5" cy="293.5" rx="1.7" ry="2" fill="#7d878e"/>
<ellipse cx="494" cy="303" rx="3" ry="3.4" fill="#d5dde2" stroke="#1b2630" stroke-width="0.7"/><ellipse cx="494.5" cy="303.5" rx="1.7" ry="2" fill="#7d878e"/>
<ellipse cx="499" cy="371" rx="3" ry="3.4" fill="#d5dde2" stroke="#1b2630" stroke-width="0.7"/><ellipse cx="499.5" cy="371.5" rx="1.7" ry="2" fill="#7d878e"/>
<ellipse cx="512" cy="437" rx="3" ry="3.4" fill="#d5dde2" stroke="#1b2630" stroke-width="0.7"/><ellipse cx="512.5" cy="437.5" rx="1.7" ry="2" fill="#7d878e"/>
<ellipse cx="627" cy="371" rx="3" ry="3.4" fill="#d5dde2" stroke="#1b2630" stroke-width="0.7"/><ellipse cx="627.5" cy="371.5" rx="1.7" ry="2" fill="#7d878e"/>
<ellipse cx="631" cy="441" rx="3" ry="3.4" fill="#d5dde2" stroke="#1b2630" stroke-width="0.7"/><ellipse cx="631.5" cy="441.5" rx="1.7" ry="2" fill="#7d878e"/>
<ellipse cx="641" cy="341" rx="3" ry="3.4" fill="#d5dde2" stroke="#1b2630" stroke-width="0.7"/><ellipse cx="641.5" cy="341.5" rx="1.7" ry="2" fill="#7d878e"/>
<path d="M178,110 L231,132 C240,137 250,143 256,138 C262,130 252,120 240,121 C230,122 224,132 222,147 C220,165 218,180 205,194 C195,203 185,208 170,214" fill="none" stroke="#1ea4de" stroke-width="3.6"/>
<path d="M102,252 L140,234" stroke="#1ea4de" stroke-width="4.5" stroke-linecap="round"/>
<path d="M153,224 L119,235 L131,238 L137,245 Z" fill="#1ea4de"/>
<path d="M162,103 L190,104 L183,111 L185,121 Z" fill="#1ea4de"/>
<g transform="rotate(-22 630 488)"><rect x="619" y="478" width="24" height="20" rx="3" fill="#8a7a3a" stroke="#2e2810" stroke-width="0.8"/><rect x="628" y="478" width="4" height="20" fill="#6e6128"/><ellipse cx="619" cy="488" rx="5" ry="10" fill="#b8a560" stroke="#2e2810" stroke-width="0.8"/><ellipse cx="619" cy="488" rx="3.2" ry="6.5" fill="#151515"/></g>
<path d="M684,445 L692,441 L704,445 L707,452 L712,456 L708,461 L708,468 L699,474 L686,472 L686,466 L672,461 L671,452 L684,448 Z" fill="#1b3644" stroke="#08131a" stroke-width="1"/>
<path d="M688,411 L695,408 L706,413 L709,420 L714,424 L710,429 L710,440 L697,442 L690,440 L690,434 L677,430 L676,421 L688,417 Z" fill="#1b3644" stroke="#08131a" stroke-width="1"/>
<path d="M698,412 L706,413 L709,420 L710,440 L698,442 Z M696,444 L704,445 L707,452 L708,468 L699,474 Z" fill="#2a5264"/>
<path d="M677,420 L690,422.5" stroke="#6a96a6" stroke-width="1.5"/>
<path d="M677,424.5 L690,427.0" stroke="#6a96a6" stroke-width="1.5"/>
<path d="M677,429 L690,431.5" stroke="#6a96a6" stroke-width="1.5"/>
<path d="M672,451 L686,453.5" stroke="#6a96a6" stroke-width="1.5"/>
<path d="M672,455.5 L686,458.0" stroke="#6a96a6" stroke-width="1.5"/>
<path d="M672,460 L686,462.5" stroke="#6a96a6" stroke-width="1.5"/>
<path d="M483,445 L553,478 L553,515 L544,520 L544,484 L488,458 Z" fill="#e9ecee" stroke="#3a4148" stroke-width="0.8"/>
<circle cx="548" cy="485" r="1.8" fill="#222"/><circle cx="493" cy="452" r="1.8" fill="#222"/>
<path d="M400,508 L488,458 L544,484 L545,548 L458,597 L445,598 C420,594 398,575 394,545 C392,530 394,518 400,508 Z" fill="#dfe4e8" stroke="#2a3138" stroke-width="0.8"/>
<path d="M400,508 L488,458 L544,484 L447,538 Z" fill="url(#coolTop)"/>
<path d="M447,538 L544,484 L545,548 L458,597 Z" fill="url(#coolSide)"/>
<path d="M400,508 L447,538 C440,555 442,580 458,597 L445,598 C420,594 398,575 394,545 C392,530 394,518 400,508 Z" fill="url(#coolEnd)"/>
<path d="M447,538 C440,555 442,580 458,597 L472,589 C460,575 455,555 460,535 Z" fill="url(#coolCurve)" opacity="0.9"/>
<path d="M400,508 L447,538 L544,484 M447,538 C440,555 442,580 458,597" fill="none" stroke="#2a3138" stroke-width="0.8"/>
<path d="M490,462 L424,506 C418,511 423,519 430,515 L503,470 C512,466 515,476 508,481 L426,528 C419,533 424,541 431,537 L510,492 C518,488 521,498 514,503 L428,551 C421,556 426,564 433,560 L512,517 C520,513 523,522 516,527 L436,573 C429,578 434,586 441,582 L470,566" fill="none" stroke="#e8262b" stroke-width="3.4" stroke-linejoin="round"/>
<path d="M470,566 L530,532 L545,524" fill="none" stroke="#e8262b" stroke-width="4.0" stroke-linejoin="round" stroke-linecap="round"/>
<path d="M512,540 L527.0,522.2 L525.4,534.3 L535.2,541.4 Z" fill="#e8262b"/>
<path d="M462,478 L532,446" fill="none" stroke="#e8262b" stroke-width="4.0" stroke-linejoin="round" stroke-linecap="round"/>
<path d="M513,455 L498.4,473.1 L499.7,461.0 L489.8,454.1 Z" fill="#e8262b"/>
<g transform="translate(534.0,521.0) rotate(22.83)"><path d="M0,-11.5 L41.2,-11.5 L41.2,11.5 L0,11.5 A7.1,11.5 0 0 1 0,-11.5 Z" fill="url(#mA)" stroke="#1b2630" stroke-width="1.0"/><ellipse cx="41.2" cy="0" rx="7.1" ry="11.5" fill="#525c63" stroke="#1b2630" stroke-width="1.0"/></g>
<g transform="rotate(24 552 530)"><rect x="546" y="516" width="12" height="28" rx="2" fill="#2a4a66" stroke="#0a141b" stroke-width="0.8"/><rect x="549" y="516" width="4" height="28" fill="#4d7090"/></g>
<path d="M568,557 L635,558 L645,566 L692,584 L685,600 L640,580 L568,577 C556,577 556,557 568,557 Z" fill="url(#tube)" stroke="#2a3138" stroke-width="0.8"/>
<ellipse cx="688" cy="592" rx="7" ry="11" transform="rotate(20 688 592)" fill="#1f3a4a" stroke="#111" stroke-width="0.8"/>
<circle cx="642" cy="567" r="10" fill="url(#ball)" stroke="#333" stroke-width="0.6"/>
<path d="M699,600 L699,672 Q728,684 757,672 L757,600 Z M711,565 L745,560 L745,600 L711,600 Z" fill="#000" opacity="0.35" filter="url(#shadow2)" transform="translate(12,8)"/>
<path d="M699,603 L699,662 L757,662 L757,603 Z" fill="url(#navyH)" stroke="#0a141b" stroke-width="1"/>
<path d="M699,658 L699,668 Q728,682 757,668 L757,658 Z" fill="#0c1820"/><rect x="700.5" y="660" width="3.2" height="9.3" rx="1" fill="#2c4452"/><rect x="701.6" y="661" width="1.1" height="7.3" fill="#a7b2b8"/><rect x="705.2" y="660" width="3.2" height="11.1" rx="1" fill="#2c4452"/><rect x="706.4" y="661" width="1.1" height="9.1" fill="#a7b2b8"/><rect x="710.0" y="660" width="3.2" height="12.7" rx="1" fill="#2c4452"/><rect x="711.1" y="661" width="1.1" height="10.7" fill="#a7b2b8"/><rect x="714.8" y="660" width="3.2" height="14.1" rx="1" fill="#2c4452"/><rect x="715.9" y="661" width="1.1" height="12.1" fill="#a7b2b8"/><rect x="719.5" y="660" width="3.2" height="15.0" rx="1" fill="#2c4452"/><rect x="720.6" y="661" width="1.1" height="13.0" fill="#a7b2b8"/><rect x="724.2" y="660" width="3.2" height="15.4" rx="1" fill="#2c4452"/><rect x="725.4" y="661" width="1.1" height="13.4" fill="#a7b2b8"/><rect x="729.0" y="660" width="3.2" height="15.4" rx="1" fill="#2c4452"/><rect x="730.1" y="661" width="1.1" height="13.4" fill="#a7b2b8"/><rect x="733.8" y="660" width="3.2" height="14.9" rx="1" fill="#2c4452"/><rect x="734.9" y="661" width="1.1" height="12.9" fill="#a7b2b8"/><rect x="738.5" y="660" width="3.2" height="13.9" rx="1" fill="#2c4452"/><rect x="739.6" y="661" width="1.1" height="11.9" fill="#a7b2b8"/><rect x="743.2" y="660" width="3.2" height="12.6" rx="1" fill="#2c4452"/><rect x="744.4" y="661" width="1.1" height="10.6" fill="#a7b2b8"/><rect x="748.0" y="660" width="3.2" height="10.9" rx="1" fill="#2c4452"/><rect x="749.1" y="661" width="1.1" height="8.9" fill="#a7b2b8"/><rect x="752.8" y="660" width="3.2" height="9.1" rx="1" fill="#2c4452"/><rect x="753.9" y="661" width="1.1" height="7.1" fill="#a7b2b8"/>
<path d="M699,620 Q728,630 757,620 M699,628 Q728,638 757,628" stroke="#0a141b" stroke-width="1.2" fill="none"/>
<ellipse cx="728" cy="603" rx="29" ry="8" fill="#2b4656" stroke="#0a141b" stroke-width="1"/>
<ellipse cx="661" cy="530" rx="17" ry="22.5" transform="rotate(8 661 530)" fill="#1a3141" stroke="#0a141b" stroke-width="1"/>
<ellipse cx="664" cy="530" rx="13" ry="18.5" transform="rotate(8 664 530)" fill="#2a4555"/>
<g transform="translate(664,531) rotate(20)"><path d="M0,-14 L32,-14 L32,14 L0,14 Z" fill="url(#pipeC)"/></g>
<path d="M706,522 C713,521 716,529 712,535 L703,576 C701,584 692,585 688,579 L670,555 C667,549 670,545 676,543 Z" fill="#1d3545" stroke="#0a141b" stroke-width="1"/>
<circle cx="705.5" cy="531.5" r="2.2" fill="#0a141b"/><circle cx="677.4" cy="551" r="2.2" fill="#0a141b"/><circle cx="697" cy="573" r="2.2" fill="#0a141b"/>
<path d="M694,536 L735,554 C741,557 745,562 745,568 L745,606 Q728,612 712,606 L712,580 C711,575 709,573 705,571 L686,562 C680,556 686,540 694,536 Z" fill="url(#pipe)" stroke="#0a141b" stroke-width="1"/>
<path d="M712,576 Q728,566 745,566" stroke="#0a141b" stroke-width="0.8" fill="none"/>
<path d="M45,145 L45,43" fill="none" stroke="#f39a2e" stroke-width="2.5"/><path d="M45,43 L50.0,58.0 L45.0,52.8 L40.0,58.0 Z" fill="#f39a2e"/>
<rect x="5" y="146" width="105" height="27" fill="url(#lab)" stroke="#f0962e" stroke-width="2"/><text x="57.5" y="165.1" text-anchor="middle" font-size="15.5">To propeller</text>
<path d="M306,50 L306,148 L262,209" fill="none" stroke="#f39a2e" stroke-width="2.5"/><path d="M262,209 L266.7,193.9 L267.7,201.1 L274.8,199.8 Z" fill="#f39a2e"/>
<rect x="213" y="23" width="142" height="27" fill="url(#lab)" stroke="#f0962e" stroke-width="2"/><text x="284.0" y="42.1" text-anchor="middle" font-size="15.5">Camshaft bearing</text>
<path d="M436,91 L436,132 L392,191" fill="none" stroke="#f39a2e" stroke-width="2.5"/><path d="M392,191 L397.0,176.0 L397.8,183.2 L405.0,182.0 Z" fill="#f39a2e"/>
<rect x="336" y="64" width="143" height="27" fill="url(#lab)" stroke="#f0962e" stroke-width="2"/><text x="407.5" y="83.1" text-anchor="middle" font-size="15.5">Camshaft bearing</text>
<path d="M675,154 L675,272 L721,332" fill="none" stroke="#f39a2e" stroke-width="2.5"/><path d="M721,332 L707.9,323.1 L715.1,324.3 L715.8,317.1 Z" fill="#f39a2e"/>
<rect x="590" y="126" width="146" height="27" fill="url(#lab)" stroke="#f0962e" stroke-width="2"/><text x="663.0" y="145.1" text-anchor="middle" font-size="15.5">Idler shaft bushing</text>
<path d="M607,193 L607,232 L654,293" fill="none" stroke="#f39a2e" stroke-width="2.5"/><path d="M654,293 L640.9,284.2 L648.0,285.3 L648.8,278.1 Z" fill="#f39a2e"/>
<rect x="527" y="166" width="125" height="27" fill="url(#lab)" stroke="#f0962e" stroke-width="2"/><text x="589.5" y="185.1" text-anchor="middle" font-size="15.5">Starter bushing</text>
<path d="M824,253 L824,358 L800,389 L735,389" fill="none" stroke="#f39a2e" stroke-width="2.5"/><path d="M735,389 L750.0,384.0 L744.8,389.0 L750.0,394.0 Z" fill="#f39a2e"/>
<path d="M824,292 L778,349" fill="none" stroke="#f39a2e" stroke-width="2.5"/><path d="M778,349 L783.5,334.2 L784.1,341.4 L791.3,340.5 Z" fill="#f39a2e"/>
<rect x="697" y="226" width="186" height="27" fill="url(#lab)" stroke="#f0962e" stroke-width="2"/><text x="790.0" y="245.1" text-anchor="middle" font-size="15.5">Accessory drive bushing</text>
<path d="M129,298 L129,272 L155,240" fill="none" stroke="#f39a2e" stroke-width="2.5"/><path d="M155,240 L149.4,254.8 L148.9,247.6 L141.7,248.5 Z" fill="#f39a2e"/>
<rect x="37" y="299" width="120" height="27" fill="url(#lab)" stroke="#f0962e" stroke-width="2"/><text x="97.0" y="318.1" text-anchor="middle" font-size="15.5">Governor pad</text>
<path d="M171,406 L171,342 L200,290" fill="none" stroke="#f39a2e" stroke-width="2.5"/><path d="M200,290 L197.1,305.5 L195.3,298.5 L188.3,300.7 Z" fill="#f39a2e"/>
<path d="M171,342 L235,304" fill="none" stroke="#f39a2e" stroke-width="2.5"/><path d="M235,304 L224.7,316.0 L226.6,309.0 L219.5,307.4 Z" fill="#f39a2e"/>
<rect x="99" y="407" width="129" height="27" fill="url(#lab)" stroke="#f0962e" stroke-width="2"/><text x="163.5" y="426.1" text-anchor="middle" font-size="15.5">Hydraulic lifters</text>
<path d="M352,576 L352,514 L410,393" fill="none" stroke="#f39a2e" stroke-width="2.5"/><path d="M410,393 L408.0,408.7 L405.8,401.8 L399.0,404.4 Z" fill="#f39a2e"/>
<rect x="165" y="577" width="230" height="27" fill="url(#lab)" stroke="#f0962e" stroke-width="2"/><text x="280.0" y="596.1" text-anchor="middle" font-size="15.5">Oil pressure gauge connection</text>
<path d="M472,615 L472,579" fill="none" stroke="#f39a2e" stroke-width="2.5"/><path d="M472,579 L477.0,594.0 L472.0,588.8 L467.0,594.0 Z" fill="#f39a2e"/>
<rect x="413" y="616" width="87" height="27" fill="url(#lab)" stroke="#f0962e" stroke-width="2"/><text x="456.5" y="635.1" text-anchor="middle" font-size="15.5">Oil cooler</text>
<path d="M604,615 L604,576" fill="none" stroke="#f39a2e" stroke-width="2.5"/><path d="M604,576 L609.0,591.0 L604.0,585.8 L599.0,591.0 Z" fill="#f39a2e"/>
<rect x="549" y="616" width="136" height="27" fill="url(#lab)" stroke="#f0962e" stroke-width="2"/><text x="617.0" y="635.1" text-anchor="middle" font-size="15.5">Oil sump pick-up</text>
<path d="M522,666 L522,601 L547,550" fill="none" stroke="#f39a2e" stroke-width="2.5"/><path d="M547,550 L544.9,565.7 L542.7,558.8 L535.9,561.3 Z" fill="#f39a2e"/>
<rect x="456" y="667" width="217" height="27" fill="url(#lab)" stroke="#f0962e" stroke-width="2"/><text x="564.5" y="686.1" text-anchor="middle" font-size="15.5">Oil temperature control valve</text>
<path d="M786,632 L758,632" fill="none" stroke="#f39a2e" stroke-width="2.5"/><path d="M758,632 L773.0,627.0 L767.8,632.0 L773.0,637.0 Z" fill="#f39a2e"/>
<rect x="787" y="619" width="75" height="27" fill="url(#lab)" stroke="#f0962e" stroke-width="2"/><text x="824.5" y="638.1" text-anchor="middle" font-size="15.5">Oil filter</text>
<path d="M765,512 L700,512 L646,488" fill="none" stroke="#f39a2e" stroke-width="2.5"/><path d="M646,488 L661.7,489.5 L654.9,492.0 L657.7,498.7 Z" fill="#f39a2e"/>
<rect x="766" y="472" width="104" height="82" fill="url(#lab)" stroke="#f0962e" stroke-width="2"/><text x="776" y="489.5" text-anchor="start" font-size="15.2">Oil pressure</text><text x="776" y="507.6" text-anchor="start" font-size="15.2">relief valve</text><text x="776" y="525.7" text-anchor="start" font-size="15.2">by-pass to</text><text x="776" y="543.8" text-anchor="start" font-size="15.2">sump</text>
</svg></body></html>
